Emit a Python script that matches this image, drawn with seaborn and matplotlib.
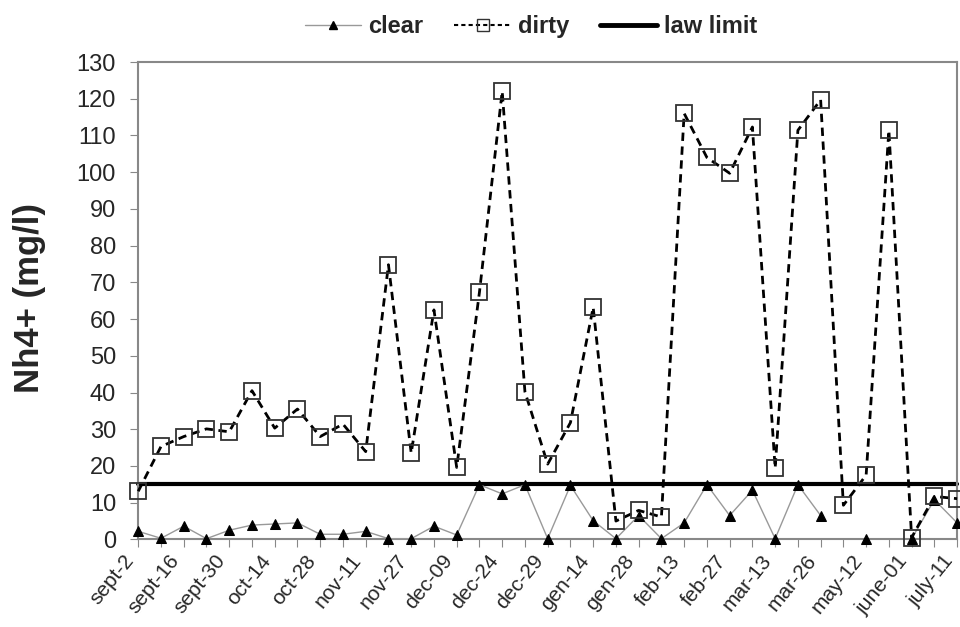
import numpy as np
import pandas as pd
import matplotlib.pyplot as plt
import matplotlib.transforms as mtransforms
from matplotlib.lines import Line2D
import seaborn as sns

# values (mg/l), one per sampling date
clear = [2.2, 0.3, 3.6, 0.2, 2.5, 3.9, 4.2, 4.5, 1.4, 1.4, 2.2, 0.2, 0.2, 3.6, 1.2,
         14.9, 12.4, 14.9, 0.2, 14.7, 5.1, 0.2, 6.5, 0.2, 4.5, 14.9, 6.5, 13.4, 0.2,
         14.9, 6.5, np.nan, 0.2, np.nan, 0.2, 10.8, 4.5]
dirty = [13.1, 25.3, 28.0, 30.1, 29.3, 40.5, 30.3, 35.5, 28.0, 31.4, 23.9, 74.8, 23.5,
         62.5, 19.6, 67.3, 122.0, 40.2, 20.5, 31.8, 63.2, 5.0, 7.9, 6.1, 116.0, 104.0,
         99.7, 112.3, 19.4, 111.4, 119.7, 9.3, 17.5, 111.4, 0.5, 11.7, 11.1]
law_limit = 15
date_labels = ['sept-2', 'sept-16', 'sept-30', 'oct-14', 'oct-28', 'nov-11', 'nov-27',
               'dec-09', 'dec-24', 'dec-29', 'gen-14', 'gen-28', 'feb-13', 'feb-27',
               'mar-13', 'mar-26', 'may-12', 'june-01', 'july-11']

n = len(dirty)
df = pd.DataFrame({'idx': np.arange(n), 'clear': clear, 'dirty': dirty})
# segment id so that missing clear samples break the line
df['seg'] = df['clear'].isna().cumsum()
df_clear = df.dropna(subset=['clear'])

sns.set_style('white')
plt.rcParams['font.family'] = ['Liberation Sans', 'DejaVu Sans']

fig = plt.figure(figsize=(9.6, 6.27), dpi=100)
ax = fig.add_axes([0.144, 0.1397, 0.853, 0.7614])

ax.axhline(law_limit, color='black', lw=3, zorder=1)
sns.lineplot(data=df_clear, x='idx', y='clear', units='seg', estimator=None, ax=ax,
             color='#999999', lw=1, marker='^', markersize=7,
             markerfacecolor='black', markeredgecolor='black', legend=False, zorder=3)
sns.lineplot(data=df, x='idx', y='dirty', ax=ax, color='black', lw=2, linestyle=(0, (3, 2)),
             marker='s', markersize=12, markerfacecolor='none', markeredgecolor='#333333',
             markeredgewidth=1.3, legend=False, zorder=4)
for ln in ax.lines:
    ln.set_clip_on(False)

ax.set_xlim(0, n - 1)
ax.set_ylim(0, 130)
ax.set_yticks(range(0, 131, 10))
ax.set_xticks(range(n))
ax.set_xticklabels([])
# date labels on every other tick, nudged left so the last one stays inside the figure
lab_trans = mtransforms.offset_copy(ax.get_xaxis_transform(), fig=fig, x=-15, y=-12, units='dots')
for i, lab in enumerate(date_labels):
    ax.text(2 * i, 0, lab, transform=lab_trans, rotation=51, ha='right', va='top',
            rotation_mode='anchor', fontsize=15)
ax.tick_params(axis='y', labelsize=17, length=6, pad=10, color='#888888', direction='out', left=True)
ax.tick_params(axis='x', length=6, color='#888888', direction='out', bottom=True)
for s in ax.spines.values():
    s.set_color('#888888')
    s.set_linewidth(1.5)

ax.set_xlabel('')
ax.set_ylabel('Nh4+ (mg/l)', fontsize=25, fontweight='bold', va='center')
ax.yaxis.set_label_coords(-0.133, (540 - 298.5) / 478)

handles = [
    Line2D([], [], color='#999999', lw=1, marker='^', markersize=6,
           markerfacecolor='black', markeredgecolor='black'),
    Line2D([], [], color='black', lw=1.5, linestyle=(0, (2, 1.5)), marker='s', markersize=9,
           markerfacecolor='none', markeredgecolor='#333333'),
    Line2D([], [], color='black', lw=3.5),
]
fig.legend(handles, ['clear', 'dirty', 'law limit'], loc='upper center',
           bbox_to_anchor=(0.553, 1.01), ncol=3, frameon=False,
           prop={'size': 17, 'weight': 'bold'}, handlelength=2.4, columnspacing=1.3,
           handletextpad=0.3)

plt.savefig('out.png', dpi=100)
